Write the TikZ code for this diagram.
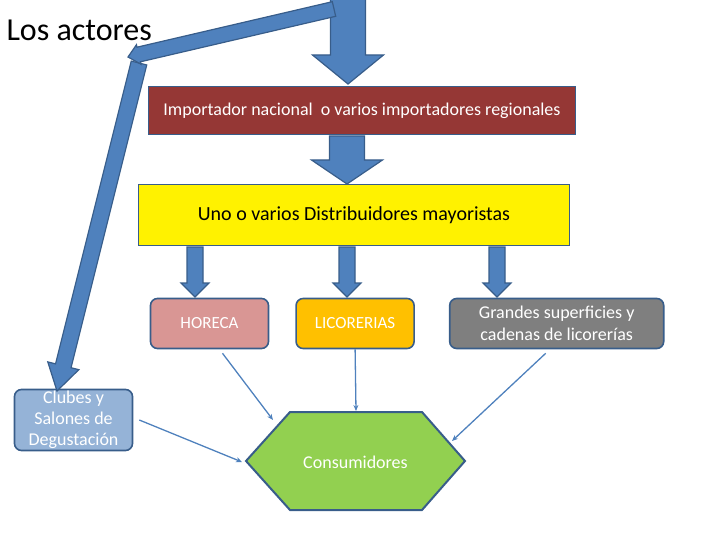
\documentclass[tikz,border=0pt]{standalone}
\usepackage{fontspec}
\setmainfont{Carlito}
\usepackage{tikz}
\usetikzlibrary{positioning}
\usetikzlibrary{calc}
\usetikzlibrary{arrows.meta}

\definecolor{arrowblue}{HTML}{4F81BD}
\definecolor{edgeblue}{HTML}{385D8A}
\definecolor{importred}{HTML}{953735}
\definecolor{horecapink}{HTML}{D99694}
\definecolor{licorgold}{HTML}{FFC000}
\definecolor{grandesgray}{HTML}{7F7F7F}
\definecolor{clubblue}{HTML}{95B3D7}
\definecolor{consumgreen}{HTML}{92D050}

% block arrow: from, tip, shaft half width, head half width, head length
\newcommand{\blockarrow}[5]{%
  \coordinate (bahead) at ($(#2)!#5!(#1)$);
  \filldraw[barrow] ($(#1)!#3!90:(#2)$) -- ($(bahead)!#3!90:(#2)$) -- ($(bahead)!#4!90:(#2)$) -- (#2)
    -- ($(bahead)!#4!-90:(#2)$) -- ($(bahead)!#3!-90:(#2)$) -- ($(#1)!#3!-90:(#2)$) -- cycle;
}

\begin{document}
\begin{tikzpicture}[x=1pt, y=-1pt,
        box/.style={rectangle, draw=edgeblue, line width=1.6pt, text=white, align=center, inner sep=1pt, font=\fontsize{18}{21.5}\selectfont},
        smallbox/.style={box, rounded corners=7pt, minimum width=118pt, minimum height=50pt},
        barrow/.style={fill=arrowblue, draw=edgeblue, line width=1.2pt, line join=miter},
        feed/.style={draw=arrowblue, line width=1.3pt, -{Stealth[length=6pt,width=5pt]}}
      ]
        \useasboundingbox (0,0) rectangle (720,540);

        \node[anchor=west, font=\fontsize{32}{36}\selectfont] (title) at (3,30) {Los actores};

        \node[box, fill=importred, minimum width=427pt, minimum height=48pt] (imp) at (362,110.5) {Importador nacional\ \ o varios importadores regionales};
        \node[box, fill=yellow, text=black, font=\fontsize{20}{24}\selectfont, minimum width=431pt, minimum height=61pt] (dist) at (354,215) {Uno o varios Distribuidores mayoristas};

        \node[smallbox, fill=horecapink, font=\fontsize{17}{20}\selectfont] (horeca) at (209.5,323.5) {HORECA};
        \node[smallbox, fill=licorgold, font=\fontsize{17}{20}\selectfont] (licor) [right=26pt of horeca] {LICORERIAS};
        \node[smallbox, fill=grandesgray, minimum width=214pt] (grandes) [right=34pt of licor] {Grandes superficies y\\cadenas de licorerías};
        \node[smallbox, fill=clubblue, minimum height=61pt, font=\fontsize{18}{21}\selectfont] (clubes) at (73.5,420) {Clubes y\\Salones de\\Degustación};

        % consumidores
        \coordinate (hexw) at (246,461);
        \coordinate (hexnw) at (290,412);
        \coordinate (hexne) at (422,412);
        \coordinate (hexe) at (465,461);
        \coordinate (hexse) at (422,510);
        \coordinate (hexsw) at (290,510);
        \filldraw[fill=consumgreen, draw=edgeblue, line width=2pt, line join=miter] (hexw) -- (hexnw) -- (hexne) -- (hexe) -- (hexse) -- (hexsw) -- cycle;
        \node[text=white, font=\fontsize{18}{21}\selectfont] (consum) at (355.5,462) {Consumidores};

        % block arrows
        \blockarrow{348,-5}{348,84}{17.5pt}{35.5pt}{29pt}
        \blockarrow{347,136}{347,184}{17.5pt}{35.5pt}{24pt}
        \foreach \x in {195,347,497} {
          \blockarrow{\x,247}{\x,297}{8pt}{14pt}{14pt}
        }
        \blockarrow{139,63}{57,391}{8pt}{16pt}{26pt}
        \blockarrow{334,9}{128,57}{7.5pt}{10pt}{11pt}

        % thin arrows to consumidores
        \coordinate (inhoreca) at (273,420);
        \coordinate (inlicor) at (356,411);
        \coordinate (ingrandes) at (452,441);
        \coordinate (inclubes) at (242,462);
        \draw[feed] ([xshift=13pt,yshift=-4pt]horeca.south) -- (inhoreca);
        \draw[feed] (licor.south) -- (inlicor);
        \draw[feed] ([xshift=-11pt,yshift=-4pt]grandes.south) -- (ingrandes);
        \draw[feed] ([xshift=6pt]clubes.east) -- (inclubes);
      \end{tikzpicture}
\end{document}
